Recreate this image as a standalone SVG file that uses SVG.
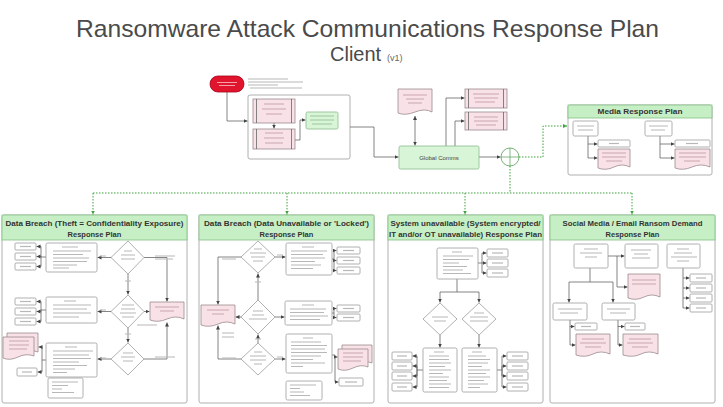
<svg xmlns="http://www.w3.org/2000/svg" width="723" height="407" viewBox="0 0 723 407">
<defs>
<style>
.t{font-family:"Liberation Sans",Arial,sans-serif}
.box{fill:#fff;stroke:#9c9c9c;stroke-width:0.8}
.pink{fill:#f8e2e8;stroke:#9a8a8e;stroke-width:0.8}
.grn{fill:#d8f5d8;stroke:#8aba8a;stroke-width:0.8}
.panel{fill:#fff;stroke:#b0b0b0;stroke-width:1}
.hdr{fill:#c6efc6;stroke:#86c086;stroke-width:0.8}
.ln{fill:none;stroke:#b8b8b8;stroke-width:1.2}
.pl{fill:none;stroke:#c9a3ad;stroke-width:1.2}
.gl{fill:none;stroke:#9cc89c;stroke-width:1.2}
.c{fill:none;stroke:#666;stroke-width:0.8;marker-end:url(#a)}
.cn{fill:none;stroke:#666;stroke-width:0.8}
.d{fill:none;stroke:#3da33d;stroke-width:1;stroke-dasharray:1.5 1.5}
.ht{font-family:"Liberation Sans",Arial,sans-serif;font-weight:bold;font-size:7.5px;fill:#333;text-anchor:middle}
</style>
<marker id="a" markerUnits="userSpaceOnUse" markerWidth="5" markerHeight="5" refX="4" refY="2" orient="auto"><path d="M0,0 L4,2 L0,4 z" fill="#444"/></marker>
<marker id="as" markerUnits="userSpaceOnUse" markerWidth="5" markerHeight="5" refX="0" refY="2" orient="auto"><path d="M4,0 L0,2 L4,4 z" fill="#444"/></marker>
<marker id="g" markerUnits="userSpaceOnUse" markerWidth="5" markerHeight="5" refX="4" refY="2" orient="auto"><path d="M0,0 L4,2 L0,4 z" fill="#3da33d"/></marker>
</defs>
<rect width="723" height="407" fill="#fff"/>

<g id="title">
<text class="t" x="76" y="37" font-size="24" fill="#4a4a4a" textLength="583" lengthAdjust="spacingAndGlyphs">Ransomware Attack Communications Response Plan</text>
<text class="t" x="330" y="61" font-size="20" fill="#4a4a4a">Client</text>
<text class="t" x="387" y="61" font-size="9" fill="#666">(v1)</text>
</g>

<!-- containers -->
<g id="trigger-container">
<rect class="box" x="248" y="95" width="102" height="64" rx="2"/>
</g>
<g id="media">
<rect class="panel" x="568" y="105" width="144" height="70" rx="2"/>
<rect class="hdr" x="568" y="105" width="144" height="13"/>
<text class="ht" x="640" y="114" textLength="85" lengthAdjust="spacingAndGlyphs">Media Response Plan</text>
</g>
<g id="panel-1">
<rect class="panel" x="2" y="215" width="185" height="188" rx="2"/>
<rect class="hdr" x="2" y="215" width="185" height="25"/>
<text class="ht" x="94.5" y="226" textLength="178" lengthAdjust="spacingAndGlyphs">Data Breach (Theft = Confidentiality Exposure)</text>
<text class="ht" x="94.5" y="237" font-size="8.5">Response Plan</text>
</g>
<g id="panel-2">
<rect class="panel" x="199" y="215" width="175" height="188" rx="2"/>
<rect class="hdr" x="199" y="215" width="175" height="25"/>
<text class="ht" x="286.5" y="226" textLength="165" lengthAdjust="spacingAndGlyphs">Data Breach (Data Unavailable or 'Locked')</text>
<text class="ht" x="286.5" y="237" font-size="8.5">Response Plan</text>
</g>
<g id="panel-3">
<rect class="panel" x="388" y="215" width="155" height="188" rx="2"/>
<rect class="hdr" x="388" y="215" width="155" height="25"/>
<text class="ht" x="465.5" y="226" textLength="150" lengthAdjust="spacingAndGlyphs">System unavailable (System encrypted/</text>
<text class="ht" x="465.5" y="237" textLength="153" lengthAdjust="spacingAndGlyphs">IT and/or OT unavailable) Response Plan</text>
</g>
<g id="panel-4">
<rect class="panel" x="550" y="215" width="165" height="188" rx="2"/>
<rect class="hdr" x="550" y="215" width="165" height="25"/>
<text class="ht" x="632.5" y="226" textLength="140" lengthAdjust="spacingAndGlyphs">Social Media / Email Ransom Demand</text>
<text class="ht" x="632.5" y="237" font-size="8.5">Response Plan</text>
</g>

<!-- connectors -->
<g id="connectors">
<path class="c" d="M227 92 V121 H247.5"/>
<path class="c" d="M274 123 V128.5"/>
<path class="c" d="M295 140 H300 V120 H305.5"/>
<path class="c" d="M350 127 H374 V157 H398.5"/>
<path class="c" d="M415 116 V145.5" marker-start="url(#as)"/>
<path class="c" d="M446 146 V98 H464.5"/>
<path class="c" d="M455 146 V121 H464.5"/>
<path class="c" d="M479 157 H500.5"/>
<path class="d" d="M519 157 H543 V126 H567" marker-end="url(#g)"/>
<path class="d" d="M510 166 V193" stroke-width="2"/>
<path class="d" d="M93 193 H632"/>
<path class="d" d="M93 193 V214.5" marker-end="url(#g)"/>
<path class="d" d="M287 193 V214.5" marker-end="url(#g)"/>
<path class="d" d="M465 193 V214.5" marker-end="url(#g)"/>
<path class="d" d="M632 193 V214.5" marker-end="url(#g)"/>
<path class="c" d="M588 136 V144 H597.5"/>
<path class="c" d="M588 144 V158 H597.5"/>
<path class="c" d="M660 136 V144 H674.5"/>
<path class="c" d="M660 144 V158 H674.5"/>
<path class="c" d="M46 257 H41 V246.5 H36.5"/>
<path class="c" d="M41 257 V256.5 H36.5"/>
<path class="c" d="M41 257 V266.5 H36.5"/>
<path class="c" d="M111 257.5 H97.5"/>
<path class="c" d="M144 257.5 H167 V301.5"/>
<path class="c" d="M128 274 V294.5"/>
<path class="c" d="M111 311.5 H97.5"/>
<path class="c" d="M46 310 H41 V301.5 H36.5"/>
<path class="c" d="M41 310 V311.5 H36.5"/>
<path class="c" d="M41 310 V321.5 H36.5"/>
<path class="c" d="M144 311.5 H149.5"/>
<path class="c" d="M128 328 V342.5"/>
<path class="c" d="M144 359 H167 V322.5"/>
<path class="c" d="M111 359 H97.5"/>
<path class="c" d="M46 360 H42 V347 H38.5"/>
<path class="c" d="M42 360 V372 H37.5"/>
<path class="c" d="M275 257 H285.5"/>
<path class="c" d="M332 259 H334 V250.5 H336.5"/>
<path class="c" d="M334 259 V260.5 H336.5"/>
<path class="c" d="M334 259 V270.5 H336.5"/>
<path class="c" d="M241 257 H218 V304.5"/>
<path class="c" d="M258 300 V273.5"/>
<path class="c" d="M241 317 H235.5"/>
<path class="c" d="M275 317 H284.5"/>
<path class="c" d="M332 313 H334 V308.5 H336.5"/>
<path class="c" d="M334 313 V317.5 H336.5"/>
<path class="c" d="M258 343 V334.5"/>
<path class="c" d="M241 359 H218 V325.5"/>
<path class="c" d="M275 359 H285.5"/>
<path class="c" d="M332 355 H335 V357 H337.5"/>
<path class="c" d="M335 357 V382 H338.5"/>
<path class="c" d="M478 263 H482 V253 H486.5"/>
<path class="c" d="M482 263 V263 H486.5"/>
<path class="c" d="M482 263 V273 H486.5"/>
<path class="cn" d="M457 279 V292 M440 292 H479"/>
<path class="c" d="M440 292 V302.5"/>
<path class="c" d="M479 292 V302.5"/>
<path class="c" d="M440 335 V347.5"/>
<path class="c" d="M479 335 V347.5"/>
<path class="c" d="M423 370 H417 V356 H412.5"/>
<path class="c" d="M417 370 V366 H412.5"/>
<path class="c" d="M417 370 V376 H412.5"/>
<path class="c" d="M417 370 V387 H412.5"/>
<path class="c" d="M497 370 H502 V356 H506.5"/>
<path class="c" d="M502 370 V366 H506.5"/>
<path class="c" d="M502 370 V376 H506.5"/>
<path class="c" d="M502 370 V387 H506.5"/>
<path class="c" d="M608 256 H624.5"/>
<path class="c" d="M617 256 V287 H627.5"/>
<path class="cn" d="M590 268 V282 M569 282 H613"/>
<path class="c" d="M569 282 V302.5"/>
<path class="c" d="M613 282 V302.5"/>
<path class="c" d="M570 320 V326.5 H574.5"/>
<path class="c" d="M570 326 V345 H575.5"/>
<path class="c" d="M618 320 V326.5 H624.5"/>
<path class="c" d="M618 326 V345 H622.5"/>
<path class="c" d="M683 268 V278 H689.5"/>
<path class="c" d="M683 278 V288 H689.5"/>
<path class="c" d="M683 288 V298 H689.5"/>
<path class="c" d="M683 298 V308 H689.5"/>
</g>

<!-- top section -->
<g id="start">
<rect x="210" y="76" width="34" height="16" rx="8" fill="#e0142c" stroke="#a8001a" stroke-width="0.8"/>
<path d="M217 82.5 h20 M219 85.5 h16" fill="none" stroke="#f3a0aa" stroke-width="1"/>
<path class="ln" d="M248 79 h40 M248 82 h55 M248 85 h30 M250 88 h52"/>
</g>
<g id="it-cyber">
<rect class="pink" x="253" y="99" width="42" height="24"/>
<path class="cn" d="M256.5 99 V123 M291.5 99 V123"/>
<path class="pl" d="M264 104 h20 M262 109 h24 M266 114 h16"/>
</g>
<g id="assess">
<rect class="pink" x="253" y="129" width="42" height="20"/>
<path class="cn" d="M256.5 129 V149 M291.5 129 V149"/>
<path class="pl" d="M265 133 h18 M264 138 h20 M265 143 h18"/>
</g>
<g id="notify">
<rect class="grn" x="306" y="112" width="32" height="17" rx="1.5"/>
<path class="gl" d="M310 116 h24 M310 120 h24 M312 124 h20"/>
</g>
<g id="global-comms">
<rect class="grn" x="399" y="146" width="80" height="23" rx="1.5"/>
<text class="t" x="439" y="159.5" font-size="6" fill="#444" text-anchor="middle">Global Comms</text>
</g>
<g id="doc-top">
<path class="pink" d="M398 89 H432 V112 Q425 108 415 112 T398 113 Z"/>
<path class="pl" d="M403 95 h24 M406 99 h18 M408 103 h14"/>
</g>
<g id="pp-1">
<rect class="pink" x="465" y="89" width="42" height="19"/>
<path class="cn" d="M468.5 89 V108 M503.5 89 V108"/>
<path class="pl" d="M473 94 h26 M474 98 h24 M475 102 h20"/>
</g>
<g id="pp-2">
<rect class="pink" x="465" y="112" width="42" height="18"/>
<path class="cn" d="M468.5 112 V130 M503.5 112 V130"/>
<path class="pl" d="M474 117 h24 M474 121 h24 M476 125 h20"/>
</g>
<g id="junction">
<circle cx="510" cy="157" r="9" fill="#fff" stroke="#66a866" stroke-width="0.9"/>
<path d="M510 148 V166 M501 157 H519" stroke="#66a866" stroke-width="0.8"/>
</g>

<g id="media-a"><rect class="box" x="573" y="121" width="25" height="15" rx="1.5"/><path class="ln" d="M577 126 h17 M578 130 h15"/></g>
<g id="media-a1"><rect class="box" x="598" y="140" width="32" height="7" rx="1"/><path class="ln" d="M609 143.5 h10"/></g>
<g id="media-a2"><path class="pink" d="M598 149 H630 V167 Q622 163 614 167 T598 168 Z"/><path class="pl" d="M602 153 h24 M602 157 h24 M606 161 h16"/></g>
<g id="media-b"><rect class="box" x="645" y="121" width="27" height="15" rx="1.5"/><path class="ln" d="M649 126 h19 M651 130 h14"/></g>
<g id="media-b1"><rect class="box" x="675" y="140" width="35" height="7" rx="1"/><path class="ln" d="M686 143.5 h12"/></g>
<g id="media-b2"><path class="pink" d="M675 149 H710 V167 Q701 163 692 167 T675 168 Z"/><path class="pl" d="M679 153 h27 M679 157 h27 M684 161 h16"/></g>

<!-- panel 1 nodes -->
<g id="p1-s1"><rect class="box" x="15" y="243" width="21" height="7" rx="1"/><path class="ln" d="M20 246.5 h11"/></g>
<g id="p1-s2"><rect class="box" x="15" y="253" width="21" height="7" rx="1"/><path class="ln" d="M20 256.5 h11"/></g>
<g id="p1-s3"><rect class="box" x="15" y="263" width="21" height="7" rx="1"/><path class="ln" d="M20 266.5 h11"/></g>
<g id="p1-b1"><rect class="box" x="46" y="243" width="51" height="29" rx="1.5"/><path class="ln" d="M62 247 h16 M53 251 h38 M53 254.5 h30 M53 258 h36 M53 261.5 h34 M53 265 h24 M53 268 h16"/></g>
<g id="p1-d1"><polygon class="box" points="128,241 144,257.5 128,274 111,257.5"/><path class="ln" d="M124 251 h8 M121 255 h14 M121 259 h14"/></g>
<g id="p1-l1"><path class="ln" d="M100 256 h6 M155 256 h20 M155 259 h18 M125 281 h6"/></g>
<g id="p1-doc"><path class="pink" d="M150 302 H184 V319 Q176 315 167 319 T150 320 Z"/><path class="pl" d="M155 307 h24 M160 311 h14"/></g>
<g id="p1-s4"><rect class="box" x="15" y="298" width="21" height="7" rx="1"/><path class="ln" d="M20 301.5 h11"/></g>
<g id="p1-s5"><rect class="box" x="15" y="308" width="21" height="7" rx="1"/><path class="ln" d="M20 311.5 h11"/></g>
<g id="p1-s6"><rect class="box" x="15" y="318" width="21" height="7" rx="1"/><path class="ln" d="M20 321.5 h11"/></g>
<g id="p1-b2"><rect class="box" x="46" y="297" width="51" height="26" rx="1.5"/><path class="ln" d="M64 301 h12 M53 305 h38 M53 309 h34 M53 313 h38 M53 317 h26"/></g>
<g id="p1-d2"><polygon class="box" points="128,295 144,311.5 128,328 111,311.5"/><path class="ln" d="M122 305 h12 M121 309 h14 M120 313 h16 M122 317 h12"/></g>
<g id="p1-l2"><path class="ln" d="M100 310 h6 M137 325 h20 M125 334 h6"/></g>
<g id="p1-d3"><polygon class="box" points="128,343 144,359 128,375 111,359"/><path class="ln" d="M123 353 h10 M121 357 h14 M123 361 h10"/></g>
<g id="p1-l3"><path class="ln" d="M100 358 h6 M155 357 h20"/></g>
<g id="p1-b3"><rect class="box" x="46" y="343" width="51" height="34" rx="1.5"/><path class="ln" d="M65 347 h12 M53 351 h40 M53 355 h36 M53 358.5 h38 M53 362 h26 M53 365.5 h34 M53 369 h22 M53 372.5 h14"/></g>
<g id="p1-b4"><rect class="box" x="48" y="378" width="35" height="20" rx="1.5"/><path class="ln" d="M52 382 h26 M52 385.5 h16 M52 389 h10 M52 392.5 h22"/></g>
<g id="p1-mdoc"><path class="pink" d="M7 333 H38 V352 Q30 349 22 353 T7 354 Z"/><path class="pink" d="M3 337 H34 V356 Q26 353 18 357 T3 358 Z"/><path class="pl" d="M9 341 h20 M9 345 h20 M9 349 h18"/></g>
<g id="p1-s7"><rect class="box" x="17" y="368" width="20" height="8" rx="1"/><path class="ln" d="M22 372 h10"/></g>

<!-- panel 2 nodes -->
<g id="p2-d1"><polygon class="box" points="258,241 275,257 258,273 241,257"/><path class="ln" d="M254 249 h8 M250 253 h16 M251 257 h14 M253 261 h10"/></g>
<g id="p2-l1"><path class="ln" d="M277 255 h6 M222 259 h14 M255 282 h6"/></g>
<g id="p2-b1"><rect class="box" x="286" y="243" width="46" height="32" rx="1.5"/><path class="ln" d="M302 247 h12 M291 251 h36 M291 254.5 h32 M291 258 h34 M291 261.5 h24 M291 265 h30 M291 268.5 h22"/></g>
<g id="p2-s1"><rect class="box" x="337" y="247" width="23" height="7" rx="1"/><path class="ln" d="M343 250.5 h11"/></g>
<g id="p2-s2"><rect class="box" x="337" y="257" width="23" height="7" rx="1"/><path class="ln" d="M343 260.5 h11"/></g>
<g id="p2-s3"><rect class="box" x="337" y="267" width="23" height="7" rx="1"/><path class="ln" d="M343 270.5 h11"/></g>
<g id="p2-doc"><path class="pink" d="M201 305 H235 V324 Q227 320 218 324 T201 325 Z"/><path class="pl" d="M207 310 h22 M212 314 h12"/></g>
<g id="p2-d2"><polygon class="box" points="258,300 275,317 258,334 241,317"/><path class="ln" d="M253 311 h10 M252 315 h12 M249 319 h18"/></g>
<g id="p2-b2"><rect class="box" x="285" y="301" width="47" height="24" rx="1.5"/><path class="ln" d="M302 305 h12 M290 309 h36 M290 312.5 h34 M290 316 h38 M290 319.5 h30"/></g>
<g id="p2-s4"><rect class="box" x="337" y="305" width="23" height="7" rx="1"/><path class="ln" d="M343 308.5 h11"/></g>
<g id="p2-s5"><rect class="box" x="337" y="314" width="23" height="7" rx="1"/><path class="ln" d="M343 317.5 h11"/></g>
<g id="p2-l2"><path class="ln" d="M222 333 h12 M222 337 h12 M222 358 h14 M277 357 h6 M255 339 h6"/></g>
<g id="p2-d3"><polygon class="box" points="258,343 275,359 258,375 241,359"/><path class="ln" d="M254 352 h8 M250 356 h16 M250 360 h16 M254 364 h8"/></g>
<g id="p2-b3"><rect class="box" x="286" y="334" width="46" height="39" rx="1.5"/><path class="ln" d="M303 338 h10 M291 342 h30 M291 345.5 h36 M291 349 h34 M291 352.5 h36 M291 356 h30 M291 359.5 h22 M291 363 h34 M291 366.5 h12"/></g>
<g id="p2-b4"><rect class="box" x="286" y="381" width="36" height="19" rx="1.5"/><path class="ln" d="M290 385 h26 M290 388.5 h10 M290 392 h14 M290 395.5 h20"/></g>
<g id="p2-mdoc"><path class="pink" d="M342 345 H372 V363 Q365 360 357 364 T342 365 Z"/><path class="pink" d="M338 349 H368 V367 Q361 364 353 368 T338 369 Z"/><path class="pl" d="M343 353 h20 M343 357 h20 M343 361 h18"/></g>
<g id="p2-s6"><rect class="box" x="339" y="378" width="24" height="8" rx="1"/><path class="ln" d="M345 382 h12"/></g>

<!-- panel 3 nodes -->
<g id="p3-top"><rect class="box" x="437" y="248" width="41" height="31" rx="1.5"/><path class="ln" d="M452 252 h10 M443 256 h30 M443 259.5 h26 M443 263 h16 M443 266.5 h24 M443 270 h20 M443 273.5 h28"/></g>
<g id="p3-s1"><rect class="box" x="487" y="249" width="21" height="8" rx="1"/><path class="ln" d="M492 253 h11"/></g>
<g id="p3-s2"><rect class="box" x="487" y="259" width="21" height="8" rx="1"/><path class="ln" d="M492 263 h11"/></g>
<g id="p3-s3"><rect class="box" x="487" y="269" width="21" height="8" rx="1"/><path class="ln" d="M492 273 h11"/></g>
<g id="p3-dl"><polygon class="box" points="440,303 457,319 440,335 423,319"/><path class="ln" d="M432 317 h16 M434 321 h12"/></g>
<g id="p3-dr"><polygon class="box" points="479,303 496,319 479,335 462,319"/><path class="ln" d="M474 313 h10 M470 317 h18 M470 321 h18"/></g>
<g id="p3-bl"><rect class="box" x="423" y="348" width="34" height="44" rx="1.5"/><path class="ln" d="M434 352 h10 M429 356 h20 M429 359.5 h20 M429 363 h22 M429 366.5 h16 M429 370 h22 M429 373.5 h14 M429 377 h20 M429 380.5 h18 M429 384 h22 M429 387.5 h20"/></g>
<g id="p3-br"><rect class="box" x="462" y="348" width="35" height="44" rx="1.5"/><path class="ln" d="M472 352 h10 M468 356 h18 M468 359.5 h22 M468 363 h20 M468 366.5 h14 M468 370 h22 M468 373.5 h18 M468 377 h22 M468 380.5 h16 M468 384 h20 M468 387.5 h12"/></g>
<g id="p3-sl1"><rect class="box" x="392" y="352" width="20" height="8" rx="1"/><path class="ln" d="M397 356 h10"/></g>
<g id="p3-sl2"><rect class="box" x="392" y="362" width="20" height="8" rx="1"/><path class="ln" d="M397 366 h10"/></g>
<g id="p3-sl3"><rect class="box" x="392" y="372" width="20" height="8" rx="1"/><path class="ln" d="M397 376 h10"/></g>
<g id="p3-sl4"><rect class="box" x="392" y="383" width="20" height="8" rx="1"/><path class="ln" d="M397 387 h10"/></g>
<g id="p3-sr1"><rect class="box" x="507" y="352" width="21" height="8" rx="1"/><path class="ln" d="M512 356 h11"/></g>
<g id="p3-sr2"><rect class="box" x="507" y="362" width="21" height="8" rx="1"/><path class="ln" d="M512 366 h11"/></g>
<g id="p3-sr3"><rect class="box" x="507" y="372" width="21" height="8" rx="1"/><path class="ln" d="M512 376 h11"/></g>
<g id="p3-sr4"><rect class="box" x="507" y="383" width="21" height="8" rx="1"/><path class="ln" d="M512 387 h11"/></g>

<!-- panel 4 nodes -->
<g id="p4-a"><rect class="box" x="574" y="244" width="34" height="24" rx="1.5"/><path class="ln" d="M584 249 h14 M580 253 h22 M585 257 h12"/></g>
<g id="p4-b"><rect class="box" x="625" y="244" width="33" height="24" rx="1.5"/><path class="ln" d="M631 250 h20 M634 254 h14 M632 258 h18"/></g>
<g id="p4-c"><rect class="box" x="667" y="244" width="33" height="24" rx="1.5"/><path class="ln" d="M677 249 h12 M674 253 h18 M671 257 h26 M677 261 h12"/></g>
<g id="p4-doc1"><path class="pink" d="M628 274 H660 V297 Q652 293 644 297 T628 298 Z"/><path class="pl" d="M632 280 h24 M632 284 h24"/></g>
<g id="p4-d"><rect class="box" x="553" y="303" width="34" height="17" rx="1.5"/><path class="ln" d="M558 309 h24 M560 313 h18"/></g>
<g id="p4-e"><rect class="box" x="602" y="303" width="33" height="17" rx="1.5"/><path class="ln" d="M607 309 h23 M610 313 h16"/></g>
<g id="p4-ds"><rect class="box" x="575" y="323" width="22" height="7" rx="1"/><path class="ln" d="M581 326.5 h10"/></g>
<g id="p4-dd"><path class="pink" d="M576 334 H610 V354 Q601 350 593 354 T576 355 Z"/><path class="pl" d="M582 339 h22 M580 343 h26 M585 347 h16"/></g>
<g id="p4-es"><rect class="box" x="625" y="323" width="20" height="7" rx="1"/><path class="ln" d="M630 326.5 h10"/></g>
<g id="p4-ed"><path class="pink" d="M623 334 H658 V354 Q649 350 641 354 T623 355 Z"/><path class="pl" d="M629 339 h22 M627 343 h26 M632 347 h16"/></g>
<g id="p4-c1"><rect class="box" x="690" y="274" width="22" height="8" rx="1"/><path class="ln" d="M696 278 h10"/></g>
<g id="p4-c2"><rect class="box" x="690" y="284" width="22" height="8" rx="1"/><path class="ln" d="M696 288 h10"/></g>
<g id="p4-c3"><rect class="box" x="690" y="294" width="22" height="8" rx="1"/><path class="ln" d="M696 298 h10"/></g>
<g id="p4-c4"><rect class="box" x="690" y="304" width="22" height="8" rx="1"/><path class="ln" d="M696 308 h10"/></g>
</svg>
